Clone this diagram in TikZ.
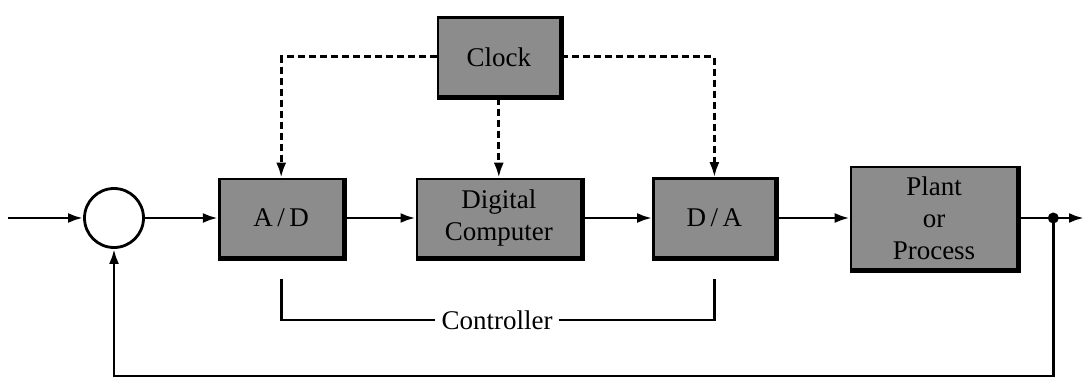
\documentclass[tikz,border=0pt]{standalone}
\usepackage{fontspec}
\setmainfont{Liberation Serif}
\usetikzlibrary{arrows.meta,positioning,calc}
\definecolor{boxgray}{gray}{0.55}

\begin{document}
\begin{tikzpicture}[
  x=1pt, y=1pt,
  node distance=72pt,
  blk/.style={draw,line width=2.6pt,fill=boxgray,align=center,inner sep=2pt,font=\fontsize{27}{32}\selectfont},
  sum/.style={draw,circle,line width=2.8pt,minimum size=59pt,inner sep=0pt},
  arrow/.style={-{Latex[length=15pt,width=10pt]},line width=2.8pt},
  clk/.style={-{Latex[length=15pt,width=10pt]},line width=2.8pt,dash pattern=on 7pt off 4pt}
]
\useasboundingbox (0,0) rectangle (1084,378);
\node[sum] (sum) at (114,160) {};
\node[blk, minimum width=124pt, minimum height=78pt, right=73pt of sum] (ad) {A\,/\,D};
\node[blk, minimum width=164pt, minimum height=78pt, right=71pt of ad] (dc) {Digital\\Computer};
\node[blk, minimum width=122pt, minimum height=79pt, right=70pt of dc] (da) {D\,/\,A};
\node[blk, minimum width=166pt, minimum height=102pt, right=73pt of da] (plant) {Plant\\or\\Process};
\node[blk, minimum width=122pt, minimum height=79pt, above=80pt of dc] (clock) {Clock};
\node[font=\fontsize{27}{32}\selectfont, inner sep=6pt] (ctrl) at (497,58) {Controller};
\coordinate (in) at (8,160);
\coordinate (tap) at ($(plant.east)+(35,0)$);
\coordinate (out) at (1084,160);
\coordinate (low) at (0,2);

% heavy edge on the boxes
\foreach \n in {ad,dc,da,plant,clock}
  \draw[line width=5pt] (\n.north east) -- (\n.south east) -- (\n.south west);

\draw[arrow] (in) -- (sum.west);
\draw[arrow] (sum.east) -- (ad.west);
\draw[arrow] (ad.east) -- (dc.west);
\draw[arrow] (dc.east) -- (da.west);
\draw[arrow] (da.east) -- (plant.west);
\draw[arrow] (plant.east) -- (out);
\fill (tap) circle (5.5pt);
\draw[arrow] (tap) -- (tap |- low) -| (sum.south);

% clock lines
\draw[clk] (clock.west) -| (ad.north);
\draw[clk] (clock.south) -- (dc.north);
\draw[clk] (clock.east) -| (da.north);

% controller bracket
\draw[line width=2.6pt] ($(ad.south)+(0,-21)$) |- (ctrl.west);
\draw[line width=2.6pt] (ctrl.east) -| ($(da.south)+(0,-20)$);
\end{tikzpicture}
\end{document}
